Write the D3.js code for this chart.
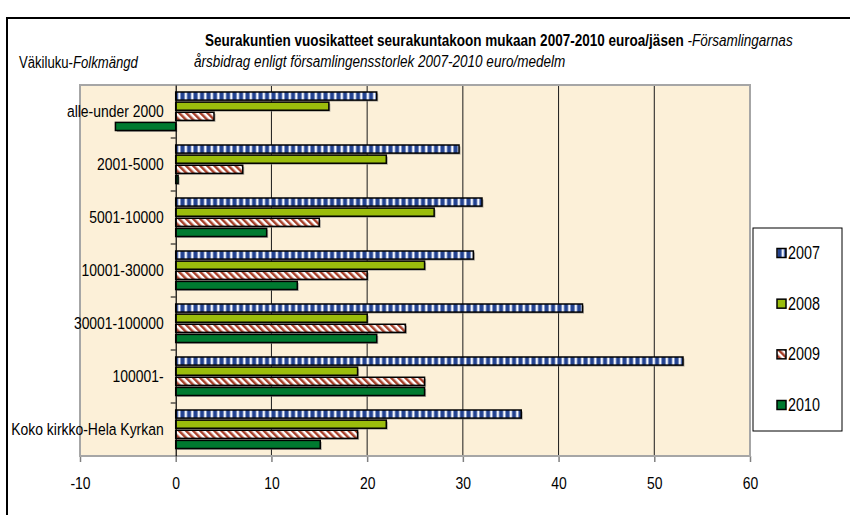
<!DOCTYPE html>
<html>
<head>
<meta charset="utf-8">
<script src="https://cdn.jsdelivr.net/npm/d3@7"></script>
<style>
  body { margin: 0; background: #fff; }
  svg { display: block; font-family: "Liberation Sans", Arial, sans-serif; }
</style>
</head>
<body>
<div id="chart"></div>
<script>
// values (euro / member)
const categories = ["alle-under 2000", "2001-5000", "5001-10000", "10001-30000",
  "30001-100000", "100001-", "Koko kirkko-Hela Kyrkan"];
const years = ["2007", "2008", "2009", "2010"];
const v2007 = [21.0, 29.6, 32.0, 31.1, 42.5, 53.0, 36.1];
const v2008 = [16.0, 22.0, 27.0, 26.0, 20.0, 19.0, 22.0];
const v2009 = [4.0, 7.0, 15.0, 20.0, 24.0, 26.0, 19.0];
const v2010 = [-6.3, 0.25, 9.5, 12.7, 21.0, 26.0, 15.1];
const xTicks = [-10, 0, 10, 20, 30, 40, 50, 60];
const gridValues = [10, 20, 30, 40, 50];

const seriesValues = [v2007, v2008, v2009, v2010];

let width = 850,
    height = 515,
    plot = { left: 80, right: 750, top: 85, bottom: 456 },
    sx = 0.82; // the original text looks horizontally squeezed

const fills = { "2007": "url(#p2007)", "2008": "#9bbd0c", "2009": "url(#p2009)", "2010": "#007a30" };

// flatten into one row per bar
let bars = [];
categories.forEach((c, i) => {
  years.forEach((yr, j) => bars.push({ cat: c, year: yr, value: seriesValues[j][i] }));
});

let svg = d3.select("#chart").append("svg")
  .attr("width", width)
  .attr("height", height);

let defs = svg.append("defs");

// vertical blue / white stripes
let p7 = defs.append("pattern")
  .attr("id", "p2007")
  .attr("patternUnits", "userSpaceOnUse")
  .attr("width", 6.5).attr("height", 20);
p7.append("rect").attr("width", 6.5).attr("height", 20).attr("fill", "#23428f");
p7.append("rect").attr("x", 2.4).attr("width", 2.8).attr("height", 20).attr("fill", "#a9b9e2");
p7.append("rect").attr("x", 3).attr("width", 1.6).attr("height", 20).attr("fill", "#ffffff");

// diagonal red / white stripes
let p9 = defs.append("pattern")
  .attr("id", "p2009")
  .attr("patternUnits", "userSpaceOnUse")
  .attr("width", 5).attr("height", 20)
  .attr("patternTransform", "rotate(-45)");
p9.append("rect").attr("width", 5).attr("height", 20).attr("fill", "#ffffff");
p9.append("rect").attr("width", 2.5).attr("height", 20).attr("fill", "#a8402a");

// outer frame
svg.append("rect")
  .attr("x", 7).attr("y", 18)
  .attr("width", 860).attr("height", 520)
  .attr("fill", "none")
  .attr("stroke", "#000")
  .attr("stroke-width", 2);

// scales
let x = d3.scaleLinear().domain([-10, 60]).range([plot.left, plot.right]);
let y0 = d3.scaleBand().domain(categories).range([plot.top, plot.bottom]);
let y1 = d3.scaleBand().domain(years).range([7, 45.5]).paddingInner(0.2);

// plot background
svg.append("rect")
  .attr("x", plot.left).attr("y", plot.top)
  .attr("width", plot.right - plot.left)
  .attr("height", plot.bottom - plot.top)
  .attr("fill", "#fcf0d8");

// gridlines
svg.append("g")
  .selectAll("line")
  .data(gridValues)
  .join("line")
  .attr("x1", d => x(d)).attr("x2", d => x(d))
  .attr("y1", plot.top).attr("y2", plot.bottom)
  .attr("stroke", "#1a1a1a")
  .attr("stroke-width", 1);

// bottom axis
let xAxis = svg.append("g")
  .attr("transform", "translate(0," + plot.bottom + ")")
  .call(d3.axisBottom(x).tickValues(xTicks).tickSize(6).tickSizeOuter(0));
xAxis.select(".domain").remove();
xAxis.selectAll(".tick line").attr("stroke", "#808080").attr("stroke-width", 1.5);
xAxis.selectAll(".tick text")
  .attr("y", 33).attr("dy", 0)
  .attr("font-size", 17)
  .attr("fill", "#000")
  .attr("transform", "scale(" + sx + ",1)")
  .text(d => d);

// plot border
svg.append("rect")
  .attr("x", plot.left).attr("y", plot.top)
  .attr("width", plot.right - plot.left)
  .attr("height", plot.bottom - plot.top)
  .attr("fill", "none")
  .attr("stroke", "#a6a6a6")
  .attr("stroke-width", 2);

// bars
let groups = svg.append("g")
  .selectAll("g")
  .data(bars)
  .join("g")
  .attr("transform", d => "translate(0," + (y0(d.cat) + y1(d.year)) + ")");

groups.append("rect")
  .attr("x", d => x(Math.min(0, d.value)) + 1.5)
  .attr("y", 1.5)
  .attr("width", d => Math.abs(x(d.value) - x(0)))
  .attr("height", y1.bandwidth())
  .attr("fill", "#7a7a7a")
  .attr("opacity", 0.6);

groups.append("rect")
  .attr("x", d => x(Math.min(0, d.value)))
  .attr("width", d => Math.abs(x(d.value) - x(0)))
  .attr("height", y1.bandwidth())
  .attr("fill", d => fills[d.year])
  .attr("stroke", "#000")
  .attr("stroke-width", 1.5);

// category axis at zero
let yAxis = svg.append("g")
  .attr("transform", "translate(" + x(0) + ",0)")
  .call(d3.axisLeft(y0).tickSize(0).tickPadding(12 / sx));
yAxis.select(".domain").attr("stroke", "#000").attr("stroke-width", 1.2);
yAxis.selectAll(".tick text")
  .attr("dy", 5.5)
  .attr("font-size", 17)
  .attr("fill", "#000")
  .attr("transform", "scale(" + sx + ",1)");

// tick marks between categories
yAxis.append("g")
  .selectAll("line")
  .data(categories.slice(1))
  .join("line")
  .attr("x1", -5).attr("x2", 0)
  .attr("y1", d => y0(d)).attr("y2", d => y0(d))
  .attr("stroke", "#000");

// texts
function squeezed(px, py, anchor) {
  return svg.append("text")
    .attr("transform", "translate(" + px + "," + py + ") scale(" + sx + ",1)")
    .attr("text-anchor", anchor || "start")
    .attr("fill", "#000");
}

let t1 = squeezed(205, 46).attr("font-size", 16.5);
t1.append("tspan").attr("font-weight", "bold")
  .text("Seurakuntien vuosikatteet seurakuntakoon mukaan 2007-2010 euroa/jäsen");
t1.append("tspan").attr("font-style", "italic").text(" -Församlingarnas");

squeezed(194, 67).attr("font-size", 16.5).attr("font-style", "italic")
  .text("årsbidrag enligt församlingensstorlek 2007-2010 euro/medelm");

let vk = squeezed(19, 68).attr("font-size", 16);
vk.append("tspan").text("Väkiluku-");
vk.append("tspan").attr("font-style", "italic").text("Folkmängd");

// legend
let legend = svg.append("g").attr("transform", "translate(753,228)");
legend.append("rect")
  .attr("width", 89).attr("height", 203)
  .attr("fill", "#fff")
  .attr("stroke", "#000")
  .attr("stroke-width", 1);

let ly = d3.scalePoint().domain(years).range([25, 177]);
let items = legend.selectAll(".item")
  .data(years)
  .join("g")
  .attr("class", "item")
  .attr("transform", d => "translate(0," + ly(d) + ")");
items.append("rect")
  .attr("x", 24).attr("y", -4.5)
  .attr("width", 9).attr("height", 9)
  .attr("fill", d => fills[d])
  .attr("stroke", "#000")
  .attr("stroke-width", 1.5);
items.append("text")
  .attr("transform", "translate(35,6) scale(" + sx + ",1)")
  .attr("font-size", 17.5)
  .text(d => d);
</script>
</body>
</html>
